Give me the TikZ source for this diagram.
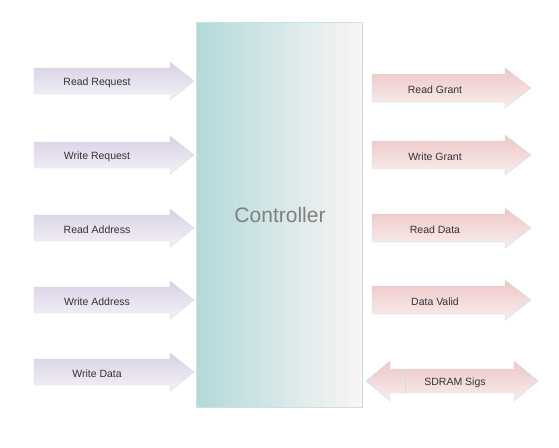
\documentclass[tikz,border=0pt]{standalone}
\usepackage{fontspec}
\setmainfont{Liberation Sans}
\definecolor{edgeteal}{HTML}{C6E2E2}
\definecolor{ctrlL}{HTML}{B3D9D9}
\definecolor{ctrlR}{HTML}{FAF5F5}
\definecolor{inTop}{HTML}{D8D0E5}
\definecolor{inBot}{HTML}{F4F2F7}
\definecolor{outTop}{HTML}{EEC6C6}
\definecolor{outBot}{HTML}{F9EEEE}
\definecolor{lbl}{HTML}{333333}
\tikzset{
  inarrow/.style={draw=edgeteal, top color=inTop, bottom color=inBot},
  outarrow/.style={draw=edgeteal, top color=outTop, bottom color=outBot},
  sig/.style={font=\fontsize{10.5}{12}\selectfont, text=lbl},
}
\begin{document}
\begin{tikzpicture}[x=1pt,y=-1pt]
    \useasboundingbox (0,0) rectangle (559,447);

    % Controller block
    \node[draw=edgeteal, left color=ctrlL, right color=ctrlR, minimum width=166pt,
          minimum height=385pt, inner sep=0pt, anchor=north west] (ctrl) at (196,22) {};
    \node[font=\fontsize{21}{24}\selectfont, text=gray] (ctrllbl) at (280,215) {Controller};

    % Inputs (left)
    \foreach \n/\y/\t in {rdreq/81/Read Request, wrreq/155/Write Request,
                          rdaddr/228/Read Address, wraddr/300/Write Address, wrdata/372/Write Data} {
        \draw[inarrow] (34,\y-13) -- (170,\y-13) -- (170,\y-19) -- (194,\y)
            -- (170,\y+19) -- (170,\y+13) -- (34,\y+13) -- cycle;
        \node[sig] (\n) at (97,\y+2) {\t};
    }

    % Outputs (right)
    \foreach \n/\y/\t in {rdgnt/88/Read Grant, wrgnt/155/Write Grant,
                          rddata/228/Read Data, dvalid/300/Data Valid} {
        \draw[outarrow] (372,\y-14) -- (505,\y-14) -- (505,\y-20) -- (531,\y)
            -- (505,\y+20) -- (505,\y+14) -- (372,\y+14) -- cycle;
        \node[sig] (\n) at (435,\y+2) {\t};
    }

    % SDRAM (both ways)
    \draw[outarrow] (366,381) -- (390,361) -- (390,369) -- (514,369) -- (514,361) -- (538,381)
        -- (514,401) -- (514,393) -- (390,393) -- (390,401) -- cycle;
    \draw[edgeteal] (405,369) -- (405,393);
    \node[sig] (sdram) at (455,383) {SDRAM Sigs};
\end{tikzpicture}
\end{document}
